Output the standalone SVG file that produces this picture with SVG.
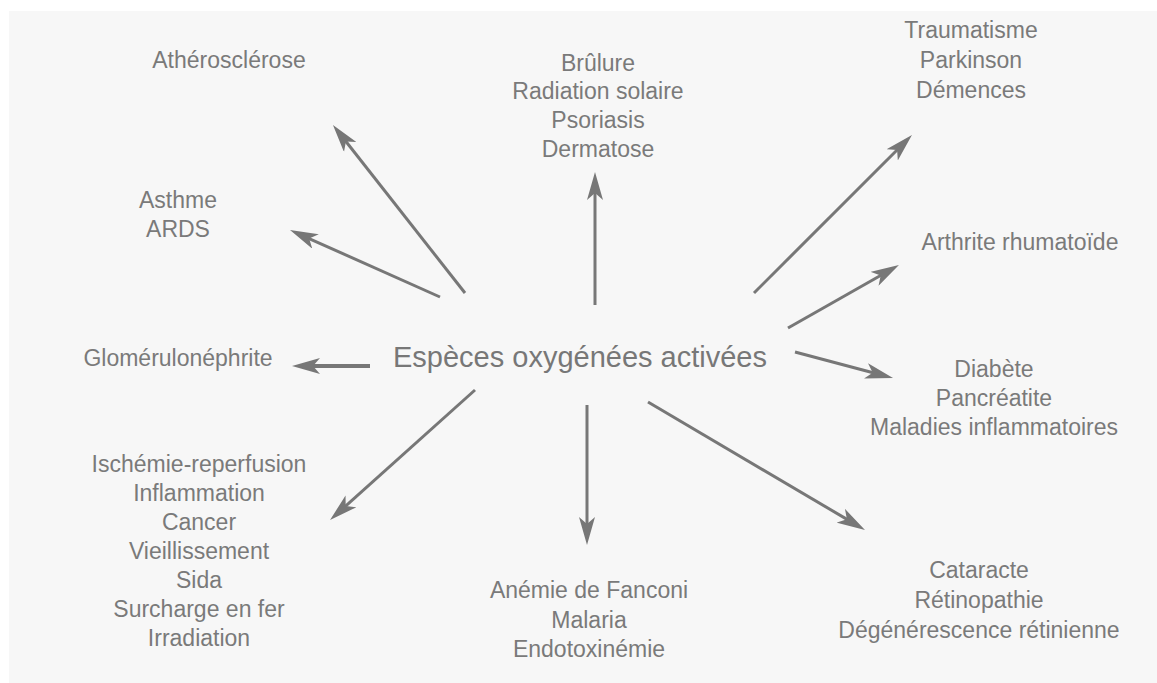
<svg xmlns="http://www.w3.org/2000/svg" width="1157" height="683" viewBox="0 0 1157 683">
<defs>
<style>
text{font-family:"Liberation Sans",Arial,sans-serif;font-size:23px;fill:#7a7a7a;text-anchor:middle}
.title{font-size:29px;fill:#777}
.c line{stroke:#777;stroke-width:3;marker-end:url(#ah)}
</style>
<marker id="ah" viewBox="0 0 28 16" refX="20" refY="8" markerWidth="28" markerHeight="16" markerUnits="userSpaceOnUse" orient="auto">
<path d="M0,0 L28,8 L0,16 L7,8 Z" fill="#777"/>
</marker>
</defs>
<rect width="1157" height="683" fill="#ffffff"/>
<rect x="9" y="11" width="1148" height="672" fill="#f7f7f7"/>
<g class="c" id="connectors">
<line x1="465" y1="293" x2="337.9" y2="131.3"/>
<line x1="440" y1="297" x2="297.3" y2="233.3"/>
<line x1="595" y1="305" x2="595" y2="180"/>
<line x1="754" y1="293" x2="906.3" y2="140.7"/>
<line x1="788" y1="328" x2="892" y2="269"/>
<line x1="795" y1="352" x2="885.3" y2="376"/>
<line x1="648" y1="402" x2="858.1" y2="525.9"/>
<line x1="587" y1="405" x2="587" y2="537"/>
<line x1="475" y1="390" x2="336" y2="514.7"/>
<line x1="370" y1="366" x2="300" y2="366" style="stroke-width:4"/>
</g>
<g id="center"><text class="title" x="580" y="367">Espèces oxygénées activées</text></g>
<g id="athero"><text x="229" y="68">Athérosclérose</text></g>
<g id="brulure"><text x="598" y="71">Brûlure</text><text x="598" y="99">Radiation solaire</text><text x="598" y="128">Psoriasis</text><text x="598" y="157">Dermatose</text></g>
<g id="trauma"><text x="971" y="38">Traumatisme</text><text x="971" y="68">Parkinson</text><text x="971" y="98">Démences</text></g>
<g id="asthme"><text x="178" y="208">Asthme</text><text x="178" y="237">ARDS</text></g>
<g id="arthrite"><text x="1020" y="250">Arthrite rhumatoïde</text></g>
<g id="glomerulo"><text x="178" y="366">Glomérulonéphrite</text></g>
<g id="diabete"><text x="994" y="377">Diabète</text><text x="994" y="406">Pancréatite</text><text x="994" y="435">Maladies inflammatoires</text></g>
<g id="ischemie"><text x="199" y="472">Ischémie-reperfusion</text><text x="199" y="501">Inflammation</text><text x="199" y="530">Cancer</text><text x="199" y="559">Vieillissement</text><text x="199" y="588">Sida</text><text x="199" y="617">Surcharge en fer</text><text x="199" y="646">Irradiation</text></g>
<g id="anemie"><text x="589" y="598">Anémie de Fanconi</text><text x="589" y="628">Malaria</text><text x="589" y="657">Endotoxinémie</text></g>
<g id="cataracte"><text x="979" y="578">Cataracte</text><text x="979" y="608">Rétinopathie</text><text x="979" y="638">Dégénérescence rétinienne</text></g>
</svg>
